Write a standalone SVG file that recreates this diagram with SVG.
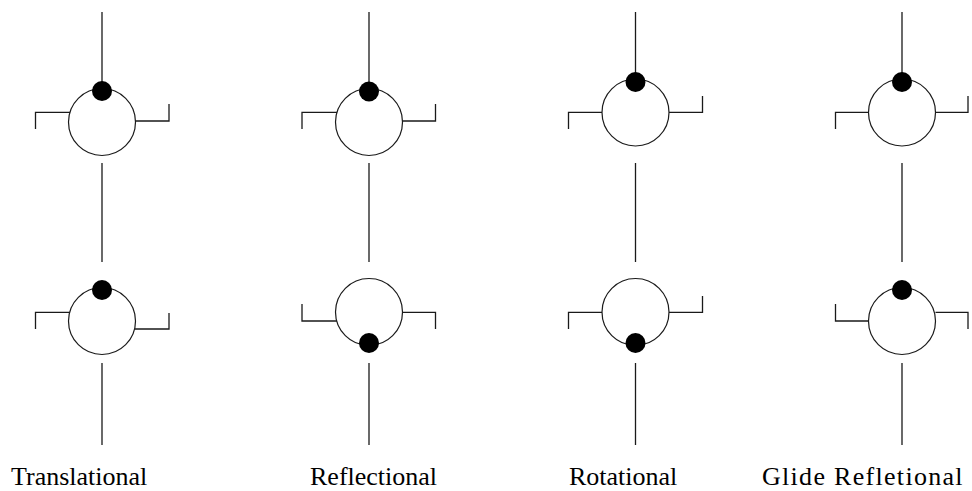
<svg xmlns="http://www.w3.org/2000/svg" width="972" height="491" viewBox="0 0 972 491">
  <style>
    .ring { fill: #ffffff; stroke: #1a1a1a; stroke-width: 1.2; }
    .dot { fill: #000000; }
    .arm { fill: none; stroke: #1a1a1a; stroke-width: 1.3; }
    .wire { stroke: #1a1a1a; stroke-width: 1.3; }
    .label { font-family: "Liberation Serif", "Times New Roman", serif; font-size: 26px; fill: #000000; }
  </style>

  <!-- vertical chains linking the symbols -->
  <g id="connectors">
    <line class="wire" x1="102" y1="12" x2="102" y2="90"/>
    <line class="wire" x1="102" y1="163" x2="102" y2="262"/>
    <line class="wire" x1="102" y1="363" x2="102" y2="445"/>

    <line class="wire" x1="369" y1="12" x2="369" y2="90"/>
    <line class="wire" x1="369" y1="163" x2="369" y2="262"/>
    <line class="wire" x1="369" y1="363" x2="369" y2="445"/>

    <line class="wire" x1="635.5" y1="12" x2="635.5" y2="80"/>
    <line class="wire" x1="635.5" y1="163" x2="635.5" y2="262"/>
    <line class="wire" x1="635.5" y1="363" x2="635.5" y2="445"/>

    <line class="wire" x1="902" y1="12" x2="902" y2="80"/>
    <line class="wire" x1="902" y1="163" x2="902" y2="262"/>
    <line class="wire" x1="902" y1="363" x2="902" y2="445"/>
  </g>

  <!-- Translational -->
  <g id="translational-top">
    <polyline class="arm" points="35.5,129 35.5,112.3 70,112.3"/>
    <polyline class="arm" points="135,121 169,121 169,104"/>
    <circle class="ring" cx="102" cy="122" r="33.5"/>
    <circle class="dot" cx="102" cy="91" r="10"/>
  </g>
  <g id="translational-bottom">
    <polyline class="arm" points="35.5,329 35.5,312.3 70,312.3"/>
    <polyline class="arm" points="135,329 169,329 169,313"/>
    <circle class="ring" cx="102" cy="321" r="33.5"/>
    <circle class="dot" cx="102" cy="290" r="10"/>
  </g>

  <!-- Reflectional -->
  <g id="reflectional-top">
    <polyline class="arm" points="302,129 302,112.3 337,112.3"/>
    <polyline class="arm" points="402,121 435.5,121 435.5,104"/>
    <circle class="ring" cx="369" cy="122" r="33.5"/>
    <circle class="dot" cx="369" cy="91.5" r="10"/>
  </g>
  <g id="reflectional-bottom">
    <polyline class="arm" points="302,304 302,321 337,321"/>
    <polyline class="arm" points="402,312.3 435.5,312.3 435.5,329"/>
    <circle class="ring" cx="369" cy="312" r="33.5"/>
    <circle class="dot" cx="369" cy="343" r="10"/>
  </g>

  <!-- Rotational -->
  <g id="rotational-top">
    <polyline class="arm" points="568.5,129 568.5,112.3 602,112.3"/>
    <polyline class="arm" points="669,112.3 702.5,112.3 702.5,96"/>
    <circle class="ring" cx="635.5" cy="112.5" r="33.5"/>
    <circle class="dot" cx="635.5" cy="82" r="10"/>
  </g>
  <g id="rotational-bottom">
    <polyline class="arm" points="568.5,329 568.5,312.3 602,312.3"/>
    <polyline class="arm" points="669,312.3 702.5,312.3 702.5,296"/>
    <circle class="ring" cx="635.5" cy="312" r="33.5"/>
    <circle class="dot" cx="635.5" cy="343" r="10"/>
  </g>

  <!-- Glide reflectional -->
  <g id="glide-top">
    <polyline class="arm" points="835.5,129 835.5,112.3 869,112.3"/>
    <polyline class="arm" points="935.5,112.3 968,112.3 968,96"/>
    <circle class="ring" cx="902" cy="112.5" r="33.5"/>
    <circle class="dot" cx="902" cy="82" r="10"/>
  </g>
  <g id="glide-bottom">
    <polyline class="arm" points="835.5,304 835.5,321 869,321"/>
    <polyline class="arm" points="935.5,312.3 968,312.3 968,329"/>
    <circle class="ring" cx="902" cy="321" r="33.5"/>
    <circle class="dot" cx="902" cy="290" r="10"/>
  </g>

  <!-- captions -->
  <g id="captions">
    <text class="label" x="11" y="485">Translational</text>
    <text class="label" x="310" y="485">Reflectional</text>
    <text class="label" x="569" y="485">Rotational</text>
    <text class="label" x="762" y="485" letter-spacing="1.3">Glide Refletional</text>
  </g>
</svg>
